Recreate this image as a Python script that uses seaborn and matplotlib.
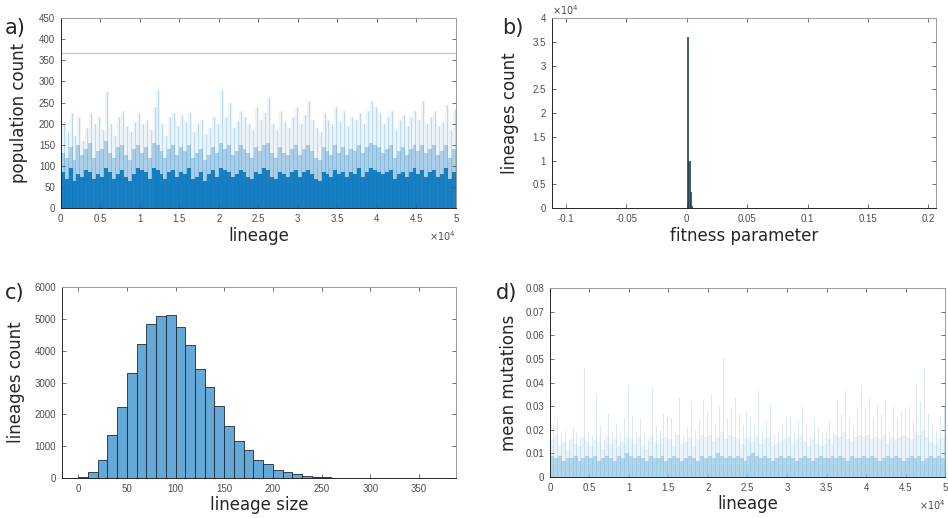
import numpy as np
import pandas as pd
import matplotlib
matplotlib.use("Agg")
import matplotlib.pyplot as plt
import seaborn as sns

# ---- panel a: population count per lineage (binned every 500 lineages) ----
pop_low = [85, 70, 95, 65, 80, 75, 90, 85, 70, 80,
           75, 95, 85, 70, 80, 90, 75, 65, 80, 95,
           90, 85, 70, 95, 90, 80, 70, 85, 90, 75,
           85, 80, 95, 70, 75, 85, 65, 80, 90, 75,
           95, 90, 85, 75, 80, 90, 85, 75, 70, 85,
           80, 95, 90, 75, 70, 85, 80, 75, 85, 90,
           75, 85, 90, 80, 70, 65, 85, 80, 75, 90,
           80, 85, 75, 85, 80, 95, 75, 85, 95, 90,
           85, 80, 85, 90, 70, 80, 85, 75, 85, 95,
           80, 90, 75, 85, 90, 75, 80, 95, 70, 85]
pop_mid = [130, 120, 145, 115, 150, 125, 140, 155, 120, 135,
           140, 160, 130, 120, 145, 150, 125, 115, 140, 150,
           130, 145, 120, 155, 150, 135, 120, 140, 150, 125,
           145, 135, 150, 120, 130, 140, 115, 125, 145, 130,
           155, 140, 150, 125, 135, 150, 140, 130, 120, 145,
           135, 150, 155, 130, 120, 145, 130, 125, 140, 150,
           125, 140, 150, 135, 120, 115, 145, 135, 125, 150,
           130, 145, 125, 140, 135, 150, 130, 145, 155, 150,
           145, 130, 140, 150, 120, 135, 145, 125, 140, 150,
           135, 150, 130, 140, 150, 125, 135, 150, 120, 140]
pop_high = [205, 180, 225, 170, 215, 160, 190, 225, 200, 215,
            185, 275, 200, 170, 215, 230, 195, 180, 205, 225,
            200, 210, 185, 240, 280, 200, 170, 215, 225, 195,
            220, 205, 225, 180, 200, 210, 175, 190, 215, 200,
            280, 215, 250, 190, 205, 230, 215, 200, 185, 240,
            210, 225, 260, 200, 185, 230, 205, 190, 215, 240,
            200, 220, 255, 210, 190, 180, 225, 210, 200, 240,
            205, 230, 195, 215, 210, 225, 200, 230, 255, 240,
            225, 200, 215, 230, 185, 210, 220, 195, 215, 230,
            210, 255, 200, 215, 230, 195, 205, 245, 185, 235]
pop_max = 368

# ---- panel b: fitness parameter histogram ----
fit_edges = [0.0, 0.0012, 0.0024, 0.0036, 0.0048]
fit_counts = [36000, 10000, 3500, 500]

# ---- panel c: lineage size histogram (bin width 10) ----
size_edges = list(range(0, 380, 10))
size_counts = [30, 180, 580, 1340, 2230, 3310, 4220, 4840, 5090, 5110,
               4730, 4180, 3440, 2850, 2260, 1640, 1150, 880, 580, 430,
               270, 200, 120, 70, 30, 20, 10, 6, 4, 3,
               2, 2, 1, 1, 1, 1, 1]

# ---- panel d: mean mutations per lineage (binned every 500 lineages) ----
mut_low = [0.009, 0.008, 0.009, 0.007, 0.008, 0.008, 0.009, 0.007, 0.008, 0.009,
           0.008, 0.009, 0.007, 0.008, 0.009, 0.008, 0.007, 0.009, 0.008, 0.010,
           0.009, 0.008, 0.009, 0.008, 0.007, 0.009, 0.008, 0.008, 0.009, 0.007,
           0.008, 0.009, 0.008, 0.007, 0.008, 0.009, 0.008, 0.007, 0.009, 0.008,
           0.009, 0.008, 0.010, 0.009, 0.008, 0.009, 0.008, 0.009, 0.008, 0.007,
           0.009, 0.010, 0.009, 0.008, 0.009, 0.008, 0.007, 0.008, 0.009, 0.008,
           0.009, 0.008, 0.007, 0.008, 0.009, 0.008, 0.007, 0.008, 0.009, 0.008,
           0.008, 0.009, 0.008, 0.009, 0.008, 0.007, 0.009, 0.008, 0.008, 0.009,
           0.008, 0.009, 0.008, 0.007, 0.008, 0.009, 0.008, 0.009, 0.008, 0.007,
           0.008, 0.009, 0.008, 0.009, 0.007, 0.008, 0.009, 0.008, 0.009, 0.008]
mut_mid = [0.016, 0.018, 0.013, 0.015, 0.012, 0.016, 0.014, 0.013, 0.017, 0.015,
           0.013, 0.016, 0.015, 0.012, 0.018, 0.014, 0.016, 0.013, 0.015, 0.017,
           0.016, 0.014, 0.017, 0.013, 0.012, 0.018, 0.015, 0.014, 0.016, 0.017,
           0.016, 0.013, 0.018, 0.014, 0.015, 0.017, 0.013, 0.016, 0.018, 0.017,
           0.018, 0.015, 0.017, 0.019, 0.016, 0.018, 0.017, 0.016, 0.014, 0.016,
           0.017, 0.015, 0.018, 0.014, 0.016, 0.017, 0.013, 0.014, 0.015, 0.016,
           0.017, 0.014, 0.016, 0.018, 0.015, 0.013, 0.016, 0.014, 0.013, 0.014,
           0.016, 0.014, 0.018, 0.017, 0.019, 0.016, 0.015, 0.017, 0.018, 0.017,
           0.018, 0.016, 0.017, 0.016, 0.018, 0.014, 0.017, 0.016, 0.017, 0.018,
           0.017, 0.016, 0.019, 0.018, 0.020, 0.017, 0.015, 0.014, 0.016, 0.017]
mut_high = [0.022, 0.025, 0.018, 0.020, 0.016, 0.021, 0.019, 0.017, 0.046, 0.020,
            0.018, 0.035, 0.022, 0.016, 0.027, 0.020, 0.023, 0.018, 0.025, 0.039,
            0.026, 0.020, 0.025, 0.018, 0.016, 0.038, 0.022, 0.020, 0.027, 0.026,
            0.025, 0.020, 0.034, 0.018, 0.021, 0.032, 0.020, 0.024, 0.033, 0.028,
            0.035, 0.022, 0.030, 0.051, 0.025, 0.030, 0.034, 0.027, 0.022, 0.028,
            0.026, 0.022, 0.037, 0.020, 0.024, 0.031, 0.018, 0.020, 0.023, 0.025,
            0.026, 0.020, 0.024, 0.030, 0.022, 0.018, 0.025, 0.021, 0.019, 0.020,
            0.024, 0.020, 0.033, 0.027, 0.037, 0.025, 0.021, 0.030, 0.039, 0.030,
            0.034, 0.025, 0.031, 0.027, 0.033, 0.020, 0.030, 0.025, 0.028, 0.029,
            0.030, 0.024, 0.040, 0.032, 0.046, 0.027, 0.022, 0.020, 0.026, 0.030]

lineage_step = 500
lineage_x = np.arange(len(pop_low)) * lineage_step + lineage_step / 2

sns.set_style("ticks")
plt.rcParams['font.family'] = ['DejaVu Sans']

BLUE = "#0072BD"
TICK_GRAY = "#4d4d4d"
TICK_FONT = "Liberation Sans"

fig = plt.figure(figsize=(9.48, 5.18), dpi=100)
ax_a = fig.add_axes([0.064, 0.598, 0.417, 0.367])
ax_b = fig.add_axes([0.582, 0.598, 0.405, 0.367])
ax_c = fig.add_axes([0.065, 0.077, 0.416, 0.369])
ax_d = fig.add_axes([0.580, 0.079, 0.417, 0.365])


def matlab_style(ax):
    for side, sp in ax.spines.items():
        sp.set_visible(True)
        sp.set_linewidth(0.7)
        sp.set_color("#262626" if side in ("bottom", "left") else "#9a9a9a")
    ax.tick_params(direction="in", length=3, width=0.6, top=True, right=True,
                   labelsize=7, labelcolor=TICK_GRAY, color="#555555", pad=4)
    for lab in ax.get_xticklabels() + ax.get_yticklabels():
        lab.set_fontfamily(TICK_FONT)


def fmt(v):
    return f"{v:g}"


# panel a
ax_a.bar(lineage_x, pop_low, width=lineage_step, color=BLUE, alpha=0.85, linewidth=0)
ax_a.bar(lineage_x, pop_mid, width=lineage_step, color=BLUE, alpha=0.28, linewidth=0)
ax_a.vlines(lineage_x + 120, 0, pop_high, color=BLUE, alpha=0.07, linewidth=3)
ax_a.vlines(lineage_x + 120, 0, pop_high, color=BLUE, alpha=0.25, linewidth=0.6)
ax_a.axhline(pop_max, color="#d6c8ba", linewidth=1.0)
ax_a.set_xlim(0, 50000)
ax_a.set_ylim(0, 450)
xt = np.arange(0, 50001, 5000)
ax_a.set_xticks(xt)
ax_a.set_xticklabels([fmt(v / 1e4) for v in xt])
ax_a.set_yticks(np.arange(0, 451, 50))
ax_a.set_xlabel("lineage", fontsize=12, labelpad=2)
ax_a.set_ylabel("population count", fontsize=12, labelpad=8)
matlab_style(ax_a)
ax_a.text(1.0, -0.11, r"$\times10^4$", transform=ax_a.transAxes, ha="right",
          va="top", fontsize=7, color=TICK_GRAY)

# panel b
sns.histplot(x=fit_edges[:-1], weights=fit_counts, bins=fit_edges, ax=ax_b,
             color="#2f6478", edgecolor="#243f4d", linewidth=0.5, alpha=1.0)
ax_b.set_xlim(-0.1116, 0.206)
ax_b.set_ylim(0, 40000)
bt = [-0.1, -0.05, 0, 0.05, 0.1, 0.15, 0.2]
ax_b.set_xticks(bt)
ax_b.set_xticklabels([fmt(v) for v in bt])
byt = np.arange(0, 40001, 5000)
ax_b.set_yticks(byt)
ax_b.set_yticklabels([fmt(v / 1e4) for v in byt])
ax_b.set_xlabel("fitness parameter", fontsize=12, labelpad=2)
ax_b.set_ylabel("lineages count", fontsize=12, labelpad=10)
matlab_style(ax_b)
ax_b.text(0.0, 1.005, r"$\times10^4$", transform=ax_b.transAxes, ha="left",
          va="bottom", fontsize=7, color=TICK_GRAY)

# panel c
sns.histplot(x=size_edges[:-1], weights=size_counts, bins=size_edges, ax=ax_c,
             color="#53a0d4", edgecolor="#1e2a33", linewidth=0.6, alpha=0.9)
ax_c.set_xlim(-17, 388)
ax_c.set_ylim(0, 6000)
ax_c.set_xticks(np.arange(0, 351, 50))
ax_c.set_yticks(np.arange(0, 6001, 1000))
ax_c.set_xlabel("lineage size", fontsize=12, labelpad=2)
ax_c.set_ylabel("lineages count", fontsize=12, labelpad=7)
matlab_style(ax_c)

# panel d
ax_d.bar(lineage_x, mut_low, width=lineage_step, color="#9ccbe8", alpha=0.75, linewidth=0)
ax_d.bar(lineage_x, mut_mid, width=lineage_step, color="#9ccbe8", alpha=0.22, linewidth=0)
ax_d.vlines(lineage_x + 120, 0, mut_high, color="#6aa6cc", alpha=0.3, linewidth=0.6)
ax_d.set_xlim(0, 50000)
ax_d.set_ylim(0, 0.08)
ax_d.set_xticks(xt)
ax_d.set_xticklabels([fmt(v / 1e4) for v in xt])
dyt = np.round(np.arange(0, 0.0801, 0.01), 2)
ax_d.set_yticks(dyt)
ax_d.set_yticklabels([f"{v:.2f}" if v > 0 else "0" for v in dyt])
ax_d.set_xlabel("lineage", fontsize=12, labelpad=2)
ax_d.set_ylabel("mean mutations", fontsize=12, labelpad=5)
matlab_style(ax_d)
ax_d.text(1.0, -0.11, r"$\times10^4$", transform=ax_d.transAxes, ha="right",
          va="top", fontsize=7, color=TICK_GRAY)

# panel letters
for x, y, s in [(15, 28, "a)"), (513, 28, "b)"), (15, 293, "c)"), (507, 293, "d)")]:
    fig.text(x / 948, 1 - y / 518, s, fontsize=15, ha="center", va="center")

fig.savefig("out.png", dpi=100)
